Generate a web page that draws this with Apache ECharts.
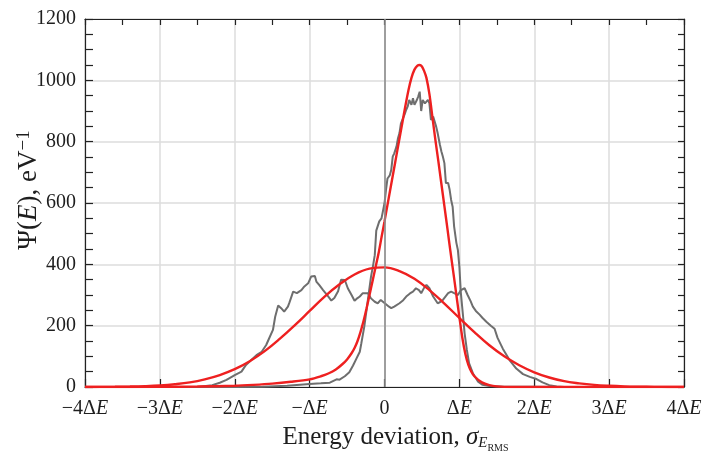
<!DOCTYPE html>
<html>
<head>
<meta charset="utf-8">
<script src="https://cdn.jsdelivr.net/npm/echarts@6/dist/echarts.min.js"></script>
<style>
html,body{margin:0;padding:0;background:#fff;}
#chart{width:708px;height:452px;}
</style>
</head>
<body>
<div id="chart"></div>
<script>
// x tick labels (units of ΔE)
const xTickValues = [-4, -3, -2, -1, 0, 1, 2, 3, 4];
const xTickLabels = ['−4ΔE', '−3ΔE', '−2ΔE', '−ΔE', '0', 'ΔE', '2ΔE', '3ΔE', '4ΔE'];
const yTickValues = [0, 200, 400, 600, 800, 1000, 1200];

// Gray measured histogram: broad distribution [x, Ψ]
const grayBroad = [
  [-4, 0], [-2.7, 0], [-2.47, 1], [-2.3, 6], [-2.2, 14], [-2.11, 23], [-2.0, 39], [-1.91, 50],
  [-1.85, 72], [-1.78, 88], [-1.71, 104], [-1.64, 115], [-1.58, 137], [-1.54, 159], [-1.49, 186],
  [-1.46, 229], [-1.42, 266], [-1.38, 257], [-1.34, 246], [-1.29, 262], [-1.27, 275], [-1.22, 311],
  [-1.17, 306], [-1.11, 316], [-1.07, 328], [-1.02, 338], [-0.98, 360], [-0.93, 362], [-0.91, 344],
  [-0.87, 332], [-0.82, 316], [-0.76, 298], [-0.71, 282], [-0.67, 290], [-0.62, 312], [-0.58, 350],
  [-0.53, 349], [-0.49, 322], [-0.44, 300], [-0.40, 281], [-0.36, 290], [-0.33, 295], [-0.29, 306],
  [-0.22, 306], [-0.18, 289], [-0.13, 278], [-0.09, 273], [-0.05, 284], [0.02, 270], [0.06, 262],
  [0.09, 257], [0.13, 262], [0.2, 273], [0.25, 283], [0.29, 295], [0.34, 305], [0.38, 311],
  [0.42, 322], [0.46, 316], [0.49, 306], [0.53, 324], [0.56, 333], [0.6, 322], [0.65, 295],
  [0.71, 273], [0.75, 278], [0.78, 284], [0.85, 306], [0.89, 311], [0.93, 306], [0.98, 300],
  [1.02, 316], [1.07, 322], [1.11, 300], [1.15, 280], [1.18, 262], [1.22, 248], [1.27, 236],
  [1.31, 225], [1.36, 213], [1.42, 200], [1.47, 190], [1.51, 160], [1.58, 125], [1.67, 88],
  [1.76, 60], [1.85, 42], [1.94, 33], [2.03, 26], [2.11, 15], [2.2, 6], [2.3, 2], [2.4, 0], [4, 0]
];

// Gray measured histogram: narrow distribution [x, Ψ]
const grayNarrow = [
  [-4, 0], [-2.0, 0], [-1.63, 1], [-1.3, 4], [-1.0, 10], [-0.85, 12], [-0.73, 14], [-0.64, 25],
  [-0.6, 24], [-0.53, 35], [-0.47, 48], [-0.42, 70], [-0.38, 90], [-0.33, 115], [-0.31, 142],
  [-0.27, 197], [-0.24, 251], [-0.21, 306], [-0.18, 360], [-0.15, 400], [-0.13, 430], [-0.11, 510],
  [-0.07, 540], [-0.04, 550], [0.0, 599], [0.02, 643], [0.04, 680], [0.07, 690], [0.09, 708],
  [0.11, 751], [0.13, 762], [0.16, 784], [0.18, 811], [0.2, 828], [0.22, 860], [0.24, 855],
  [0.27, 890], [0.29, 904], [0.31, 915], [0.33, 936], [0.36, 920], [0.38, 942], [0.40, 920],
  [0.43, 935], [0.45, 947], [0.47, 963], [0.49, 900], [0.51, 936], [0.54, 925], [0.56, 920],
  [0.58, 936], [0.60, 925], [0.62, 871], [0.65, 882], [0.67, 882], [0.69, 849], [0.71, 828],
  [0.74, 790], [0.76, 768], [0.78, 751], [0.80, 730], [0.82, 665], [0.85, 665], [0.87, 643],
  [0.89, 610], [0.91, 588], [0.93, 523], [0.96, 470], [0.98, 447], [1.0, 392], [1.02, 306],
  [1.05, 229], [1.07, 175], [1.10, 121], [1.13, 77], [1.18, 45], [1.25, 17], [1.31, 7],
  [1.4, 3], [1.6, 1], [2.0, 1], [2.3, 0], [4, 0]
];

// Red fit: broad Gaussian [x, Ψ]
const redBroad = [
  [-4.0, 0.2], [-3.8, 0.3], [-3.6, 0.7], [-3.4, 1.4], [-3.2, 2.7], [-3.0, 5], [-2.8, 9], [-2.6, 15],
  [-2.4, 25], [-2.2, 39], [-2.0, 58], [-1.8, 84], [-1.6, 117], [-1.4, 157], [-1.2, 201], [-1.0, 248],
  [-0.8, 295], [-0.6, 335], [-0.4, 367], [-0.2, 386], [0.0, 390], [0.2, 378], [0.4, 353], [0.6, 316],
  [0.8, 272], [1.0, 225], [1.2, 179], [1.4, 136], [1.6, 100], [1.8, 71], [2.0, 48], [2.2, 31],
  [2.4, 19], [2.6, 12], [2.8, 7], [3.0, 4], [3.2, 2], [3.4, 1], [3.6, 0.5], [3.8, 0.2], [4.0, 0.1]
];

// Red fit: narrow skewed peak [x, Ψ]
const redNarrow = [
  [-4, 0], [-3, 0.5], [-2.5, 1.5], [-2, 4], [-1.75, 7], [-1.5, 11], [-1.25, 17], [-1.0, 25],
  [-0.85, 35], [-0.75, 44], [-0.65, 57], [-0.56, 75], [-0.5, 90], [-0.44, 110], [-0.4, 127],
  [-0.36, 150], [-0.32, 180], [-0.28, 215], [-0.24, 256], [-0.2, 300], [-0.16, 345], [-0.12, 390],
  [-0.08, 435], [-0.04, 488], [0.0, 540], [0.04, 594], [0.08, 648], [0.12, 702], [0.16, 756],
  [0.2, 810], [0.24, 864], [0.28, 918], [0.32, 968], [0.36, 1008], [0.4, 1035], [0.44, 1048],
  [0.47, 1050], [0.5, 1045], [0.53, 1030], [0.56, 1008], [0.6, 955], [0.64, 880], [0.68, 805],
  [0.72, 735], [0.76, 662], [0.8, 590], [0.84, 517], [0.88, 443], [0.92, 372], [0.96, 300],
  [1.0, 228], [1.04, 160], [1.08, 108], [1.12, 72], [1.16, 50], [1.2, 35], [1.3, 15], [1.4, 6],
  [1.5, 2], [1.7, 0], [4, 0]
];

const FONT = "'Liberation Serif', 'Times New Roman', serif";
const TXT = '#1e1e1e';

function xLabel(v) {
  const r = Math.round(v);
  if (Math.abs(v - r) > 1e-6) return '';
  const i = xTickValues.indexOf(r);
  if (i < 0) return '';
  const s = xTickLabels[i];
  if (s.endsWith('E')) return '{n|' + s.slice(0, -1) + '}{i|E}';
  return '{n|' + s + '}';
}

const chart = echarts.init(document.getElementById('chart'), null, {renderer: 'canvas'});
chart.setOption({
  animation: false,
  backgroundColor: '#ffffff',
  grid: {left: 85, right: 24, top: 19, bottom: 65, containLabel: false, outerBoundsMode: 'none'},
  xAxis: [
    {
      type: 'value', min: -4, max: 4, interval: 1, position: 'bottom',
      axisLine: {show: true, onZero: false, lineStyle: {color: '#222', width: 1.2}},
      axisTick: {show: true, inside: true, length: 8, lineStyle: {color: '#222', width: 1.2}},
      splitLine: {show: true, lineStyle: {color: '#dcdcdc', width: 1.5}},
      axisLabel: {
        margin: 12, formatter: xLabel, showMinLabel: true, showMaxLabel: true, hideOverlap: false,
        rich: {
          n: {fontFamily: FONT, fontSize: 20, color: TXT},
          i: {fontFamily: FONT, fontSize: 20, color: TXT, fontStyle: 'italic'}
        }
      },
      name: '{n|Energy deviation, }{g|σ}{e|E}{r|RMS}',
      nameLocation: 'middle', nameGap: 38, nameMoveOverlap: false,
      nameTextStyle: {
        padding: [0, 0, 0, 22],
        rich: {
          n: {fontFamily: FONT, fontSize: 25, color: TXT, verticalAlign: 'top'},
          g: {fontFamily: FONT, fontSize: 25, color: TXT, fontStyle: 'italic', verticalAlign: 'top'},
          e: {fontFamily: FONT, fontSize: 15, color: TXT, fontStyle: 'italic', verticalAlign: 'top', padding: [11, 0, 0, 0]},
          r: {fontFamily: FONT, fontSize: 10, color: TXT, verticalAlign: 'top', padding: [18, 0, 0, 0]}
        }
      }
    },
    {
      type: 'value', min: -4, max: 4, interval: 0.5, position: 'top',
      axisLine: {show: true, onZero: false, lineStyle: {color: '#222', width: 1.2}},
      axisTick: {show: true, inside: true, length: 6, lineStyle: {color: '#222', width: 1.2}},
      splitLine: {show: false}, axisLabel: {show: false}
    }
  ],
  yAxis: [
    {
      type: 'value', min: 0, max: 1200, interval: 200, position: 'left',
      axisLine: {show: true, onZero: false, lineStyle: {color: '#222', width: 1.2}},
      axisTick: {show: true, inside: true, length: 8, lineStyle: {color: '#222', width: 1.2}},
      minorTick: {show: true, splitNumber: 4, length: 8, lineStyle: {color: '#222', width: 1.2}},
      splitLine: {show: true, lineStyle: {color: '#dcdcdc', width: 1.5}},
      axisLabel: {
        margin: 9, fontFamily: FONT, fontSize: 20, color: TXT,
        formatter: function (v) { return yTickValues.indexOf(v) >= 0 ? String(v) : ''; }
      },
      name: '{p|Ψ(}{i|E}{p|), eV}{s|−1}',
      nameLocation: 'middle', nameRotate: 90, nameGap: 43, nameMoveOverlap: false,
      nameTextStyle: {
        padding: [0, 0, 0, 26],
        rich: {
          p: {fontFamily: FONT, fontSize: 27, color: TXT, verticalAlign: 'bottom'},
          i: {fontFamily: FONT, fontSize: 27, color: TXT, fontStyle: 'italic', verticalAlign: 'bottom'},
          s: {fontFamily: FONT, fontSize: 19, color: TXT, verticalAlign: 'top'}
        }
      }
    },
    {
      type: 'value', min: 0, max: 1200, interval: 200, position: 'right',
      axisLine: {show: true, onZero: false, lineStyle: {color: '#222', width: 1.2}},
      axisTick: {show: true, inside: true, length: 6, lineStyle: {color: '#222', width: 1.2}},
      minorTick: {show: true, splitNumber: 4, length: 6, lineStyle: {color: '#222', width: 1.2}},
      splitLine: {show: false}, axisLabel: {show: false}
    }
  ],
  series: [
    {
      type: 'line', name: 'broad', data: grayBroad, xAxisIndex: 0, yAxisIndex: 0,
      showSymbol: false, symbol: 'none', smooth: false,
      lineStyle: {color: '#6e6e6e', width: 2}, z: 3,
      markLine: {
        silent: true, symbol: 'none', label: {show: false},
        lineStyle: {color: '#8c8c8c', width: 1.6, type: 'solid'},
        data: [{xAxis: 0}]
      }
    },
    {
      type: 'line', name: 'narrow', data: grayNarrow, xAxisIndex: 0, yAxisIndex: 0,
      showSymbol: false, symbol: 'none', smooth: false,
      lineStyle: {color: '#6e6e6e', width: 2}, z: 3
    },
    {
      type: 'line', name: 'fitBroad', data: redBroad, xAxisIndex: 0, yAxisIndex: 0,
      showSymbol: false, symbol: 'none', smooth: 0.4,
      lineStyle: {color: '#ee2020', width: 2.4}, z: 4
    },
    {
      type: 'line', name: 'fitNarrow', data: redNarrow, xAxisIndex: 0, yAxisIndex: 0,
      showSymbol: false, symbol: 'none', smooth: 0.3,
      lineStyle: {color: '#ee2020', width: 2.4}, z: 4
    }
  ]
});
</script>
</body>
</html>
